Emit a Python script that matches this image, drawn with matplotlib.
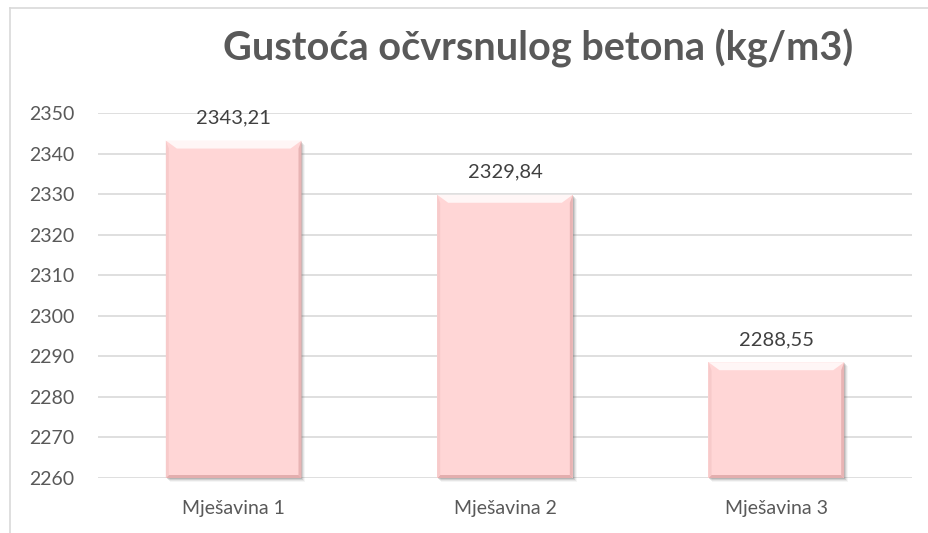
import matplotlib
matplotlib.use("Agg")
import matplotlib.pyplot as plt
from matplotlib.patches import Polygon, Rectangle
from matplotlib.lines import Line2D

# chart data
categories = ["Mješavina 1", "Mješavina 2", "Mješavina 3"]
density = [2343.21, 2329.84, 2288.55]
value_labels = ["2343,21", "2329,84", "2288,55"]
y_ticks = [2260, 2270, 2280, 2290, 2300, 2310, 2320, 2330, 2340, 2350]

TEXT = "#595959"
GRID = "#D9D9D9"
FILL = "#FFD6D6"
BAR_W = 0.5

plt.rcParams["font.family"] = ["Lato", "DejaVu Sans"]

fig = plt.figure(figsize=(9.29, 5.33), dpi=100)
ax = fig.add_axes([98 / 929, 1 - 478 / 533, (912 - 98) / 929, (478 - 113) / 533])

ax.set_xlim(-0.5, len(categories) - 0.5)
ax.set_ylim(y_ticks[0], y_ticks[-1])

# pixel -> data scale for the bevel and shadow details
px_x = (len(categories)) / (912 - 98)
px_y = (y_ticks[-1] - y_ticks[0]) / (478 - 113)

base = y_ticks[0]
for i, v in enumerate(density):
    x0, x1 = i - BAR_W / 2, i + BAR_W / 2
    # soft drop shadow on the right and bottom
    for k, a in [(4, 0.06), (3, 0.10), (2, 0.16), (1, 0.22)]:
        ax.add_patch(Rectangle((x0 + k * px_x, base - k * px_y), BAR_W, v - base,
                               facecolor="#606060", alpha=a, edgecolor="none",
                               zorder=2, clip_on=False))
    ax.bar(i, v - base, bottom=base, width=BAR_W, color=FILL, zorder=3)
    bx, by = 11 * px_x, 8 * px_y
    # light top bevel
    ax.add_patch(Polygon([(x0, v), (x1, v), (x1 - bx, v - by), (x0 + bx, v - by)],
                         closed=True, facecolor="#FFF6F6", edgecolor="none", zorder=4))
    # darker side and bottom bevels
    ax.add_patch(Polygon([(x1, v), (x1, base), (x1 - 3 * px_x, base + 3 * px_y), (x1 - 3 * px_x, v - by)],
                         closed=True, facecolor="#E8B4B4", edgecolor="none", zorder=4))
    ax.add_patch(Polygon([(x0, base), (x1, base), (x1 - 3 * px_x, base + 3 * px_y), (x0 + 3 * px_x, base + 3 * px_y)],
                         closed=True, facecolor="#E3AEAE", edgecolor="none", zorder=4))
    ax.add_patch(Polygon([(x0, v), (x0, base), (x0 + 3 * px_x, base + 3 * px_y), (x0 + 3 * px_x, v - by)],
                         closed=True, facecolor="#F7CACA", edgecolor="none", zorder=4))
    ax.annotate(value_labels[i], (i, v), xytext=(0, 10), textcoords="offset points",
                ha="center", va="bottom", fontsize=14.5, color="#404040")

ax.set_yticks(y_ticks)
ax.set_xticks(range(len(categories)))
ax.set_xticklabels(categories)
ax.yaxis.grid(True, color=GRID, linewidth=1.2, zorder=0)
ax.set_axisbelow(True)
for s in ax.spines.values():
    s.set_visible(False)
ax.tick_params(axis="both", length=0, labelsize=14, colors=TEXT)
ax.tick_params(axis="y", pad=17)
ax.tick_params(axis="x", pad=16)

fig.text(538 / 929, 1 - 48 / 533, "Gustoća očvrsnulog betona (kg/m3)", ha="center", va="center",
         fontsize=28.5, fontweight="bold", color=TEXT)

# outer chart frame (left and top edges)
fig.add_artist(Line2D([10 / 929, 10 / 929], [0, 1 - 8 / 533], color=GRID, linewidth=1.2))
fig.add_artist(Line2D([10 / 929, 1], [1 - 8 / 533, 1 - 8 / 533], color=GRID, linewidth=1.2))

fig.savefig("out.png", dpi=100)
